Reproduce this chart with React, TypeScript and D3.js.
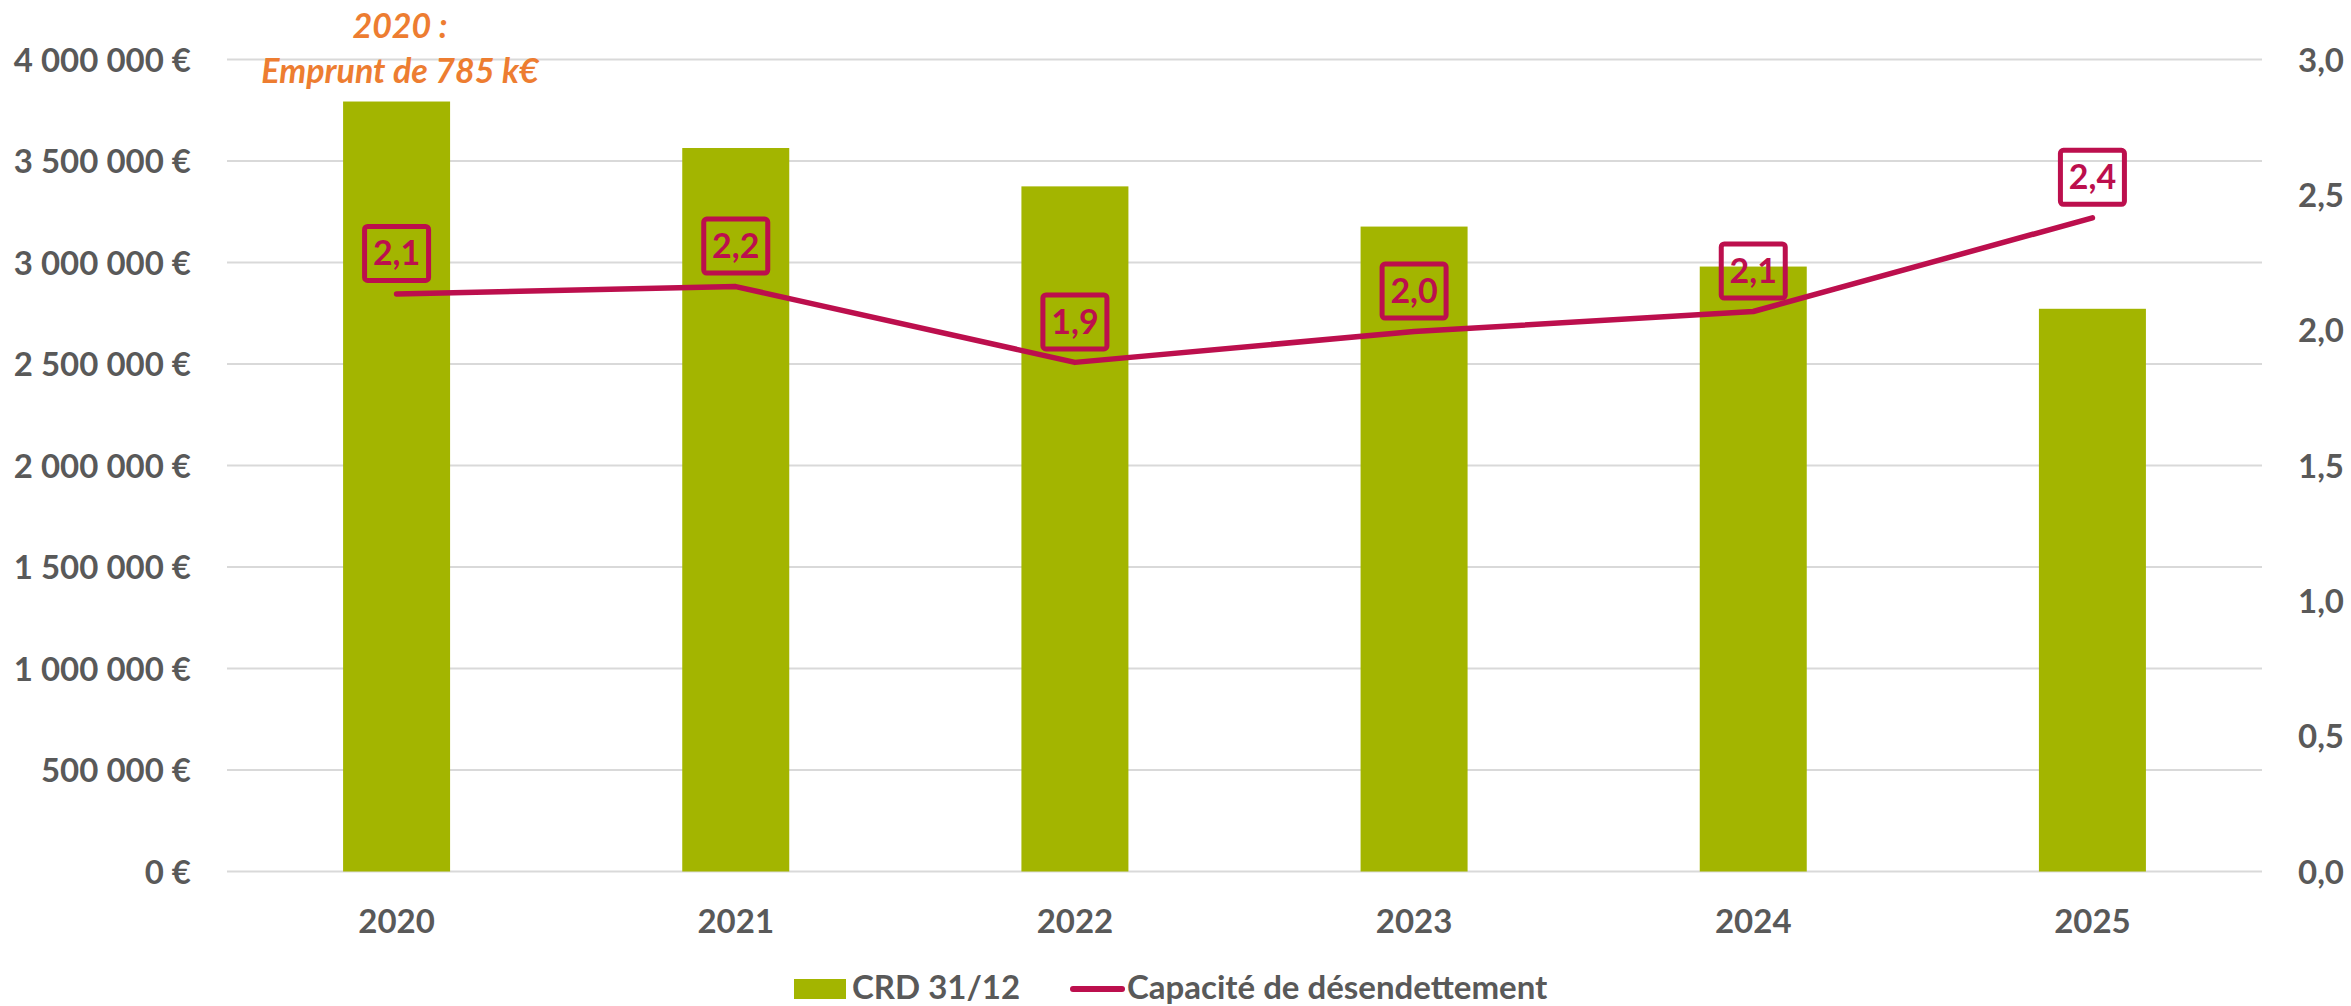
import React from "react";
import * as d3 from "d3";

const years = ["2020", "2021", "2022", "2023", "2024", "2025"];
const crdValues = [3793000, 3564000, 3375000, 3177000, 2980000, 2772000];
const capaciteValues = [2.134, 2.161, 1.881, 1.995, 2.069, 2.415];
const leftTicks = [0, 500000, 1000000, 1500000, 2000000, 2500000, 3000000, 3500000, 4000000];
const rightTicks = [0, 0.5, 1, 1.5, 2, 2.5, 3];
const annotationLines = ["2020 :", "Emprunt de 785 k€"];
const seriesNames = ["CRD 31/12", "Capacité de désendettement"];

const W = 2351;
const H = 1006;
const FONT = "Lato, 'Open Sans', 'DejaVu Sans', sans-serif";
const GREY = "#595959";
const GREEN = "#A3B500";
const CRIMSON = "#BC0F4D";
const ORANGE = "#ED7D31";
const GRID = "#D9D9D9";

const fmtEuro = (v: number) => {
  const s = d3.format(",")(v).replace(/,/g, " ");
  return `${s} €`;
};
const fmtDec = (v: number) => v.toFixed(1).replace(".", ",");

export default function App() {
  const left = 227;
  const right = 2262;
  const top = 59.5;
  const bottom = 871.5;

  const pi = 1 - 107 / ((right - left) / years.length);
  const x = d3.scaleBand<string>().domain(years).range([left, right]).paddingInner(pi).paddingOuter(pi / 2);
  const yL = d3.scaleLinear().domain([0, 4000000]).range([bottom, top]);
  const yR = d3.scaleLinear().domain([0, 3]).range([bottom, top]);
  const cx = (d: string) => (x(d) as number) + x.bandwidth() / 2;

  const line = d3
    .line<number>()
    .x((_, i) => cx(years[i]))
    .y((d) => yR(d));

  const fs = 33;
  const boxW = 69;
  const boxH = 59;
  const sw = 5;

  return (
    <svg
      width={W}
      height={H}
      style={{ position: "absolute", left: 0, top: 0, background: "#fff" }}
      fontFamily={FONT}
    >
      <rect x={0} y={0} width={W} height={H} fill="#fff" />
      {leftTicks.map((t) => (
        <line key={`g${t}`} x1={left} x2={right} y1={yL(t)} y2={yL(t)} stroke={GRID} strokeWidth={2} />
      ))}
      {leftTicks.map((t) => (
        <text key={`l${t}`} x={191} y={yL(t) + 12} textAnchor="end" fontSize={fs} fontWeight={700} fill={GREY}>
          {fmtEuro(t)}
        </text>
      ))}
      {rightTicks.map((t) => (
        <text key={`r${t}`} x={2298} y={yR(t) + 12} textAnchor="start" fontSize={fs} fontWeight={700} fill={GREY}>
          {fmtDec(t)}
        </text>
      ))}
      {years.map((yr, i) => (
        <rect
          key={`b${yr}`}
          x={x(yr)}
          y={yL(crdValues[i])}
          width={x.bandwidth()}
          height={yL(0) - yL(crdValues[i])}
          fill={GREEN}
        />
      ))}
      {years.map((yr) => (
        <text key={`x${yr}`} x={cx(yr)} y={933} textAnchor="middle" fontSize={fs} fontWeight={700} fill={GREY}>
          {yr}
        </text>
      ))}
      <path
        d={line(capaciteValues) || ""}
        fill="none"
        stroke={CRIMSON}
        strokeWidth={5.5}
        strokeLinejoin="round"
        strokeLinecap="round"
      />
      {years.map((yr, i) => {
        const px = cx(yr);
        const py = yR(capaciteValues[i]);
        const bBottom = py - 11;
        const bTop = bBottom - boxH;
        return (
          <g key={`d${yr}`}>
            <rect
              x={px - boxW / 2 + sw / 2}
              y={bTop + sw / 2}
              width={boxW - sw}
              height={boxH - sw}
              rx={3}
              fill="none"
              stroke={CRIMSON}
              strokeWidth={sw}
            />
            <text
              x={px}
              y={bTop + boxH / 2 + 12}
              textAnchor="middle"
              fontSize={34}
              fontWeight={700}
              fill={CRIMSON}
            >
              {fmtDec(capaciteValues[i])}
            </text>
          </g>
        );
      })}
      {annotationLines.map((t, i) => (
        <text
          key={`a${i}`}
          x={400}
          y={38 + i * 45}
          textAnchor="middle"
          fontSize={34}
          fontWeight={700}
          fontStyle="italic"
          fill={ORANGE}
        >
          {t}
        </text>
      ))}
      <rect x={794} y={979} width={52} height={20} fill={GREEN} />
      <text x={852} y={999} fontSize={fs} fontWeight={700} fill={GREY}>
        {seriesNames[0]}
      </text>
      <line x1={1073} x2={1122} y1={989} y2={989} stroke={CRIMSON} strokeWidth={6} strokeLinecap="round" />
      <text x={1127} y={999} fontSize={fs} fontWeight={700} fill={GREY}>
        {seriesNames[1]}
      </text>
    </svg>
  );
}
